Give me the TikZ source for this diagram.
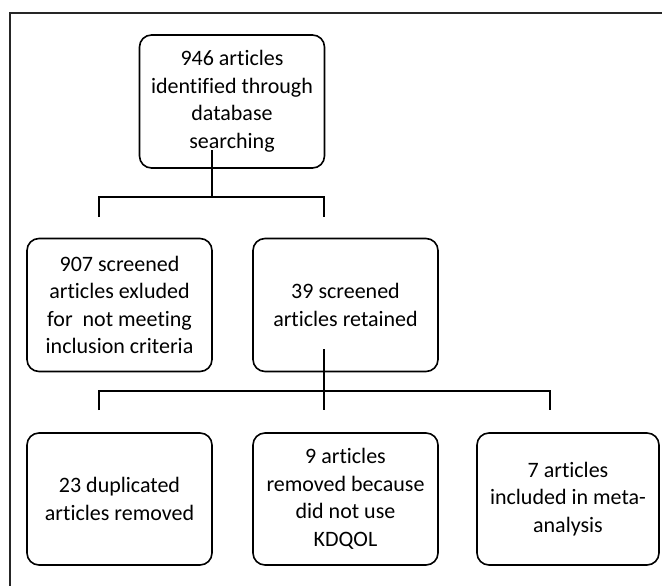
\documentclass[tikz,border=0pt]{standalone}
\usepackage{fontspec}
\setmainfont[Ligatures={NoCommon}]{Carlito}
\begin{document}
\begin{tikzpicture}[x=1pt,y=-1pt,
  box/.style={draw=black, line width=1.6pt, rounded corners=12pt, minimum width=185pt, minimum height=133pt, align=center, inner sep=0pt, font=\fontsize{22}{27.5}\selectfont},
  link/.style={draw=black, line width=1.6pt},
  frame/.style={draw=black!85, line width=2.5pt}]
\useasboundingbox (0,0) rectangle (662,586);
\coordinate (f1) at (662,13);
\coordinate (f2) at (10,13);
\coordinate (f3) at (10,586);
\draw[frame] (f1) -- (f2) -- (f3);

\node[box] (top) at (232,101.5) {946 articles\\identified through\\database\\searching};
\node[box] (excl) at (119.5,305) {907 screened\\articles exluded\\for~~not meeting\\inclusion criteria};
\node[box] (ret) at (345.5,305) {39 screened\\articles retained};
\node[box, minimum height=132pt] (dup) at (119.5,499) {23 duplicated\\articles removed};
\node[box, minimum height=132pt] (kdq) at (345.5,499) {9 articles\\removed because\\did not use\\KDQOL};
\node[box, minimum height=132pt, minimum width=182pt] (meta) at (568,499) {7 articles\\included in meta-\\analysis};

% first split
\coordinate (a0) at (212,150);
\coordinate (a1) at (212,197);
\coordinate (a2) at (99,197);
\coordinate (a3) at (324,197);
\coordinate (a4) at (99,217);
\coordinate (a5) at (324,217);
\draw[link] (a0) -- (a1);
\draw[link] (a4) -- (a2) -- (a3) -- (a5);

% second split
\coordinate (b0) at (324,349);
\coordinate (b1) at (324,410);
\coordinate (b2) at (99,391);
\coordinate (b3) at (550,391);
\coordinate (b4) at (99,410);
\coordinate (b5) at (550,410);
\draw[link] (b0) -- (b1);
\draw[link] (b4) -- (b2) -- (b3) -- (b5);
\end{tikzpicture}
\end{document}
